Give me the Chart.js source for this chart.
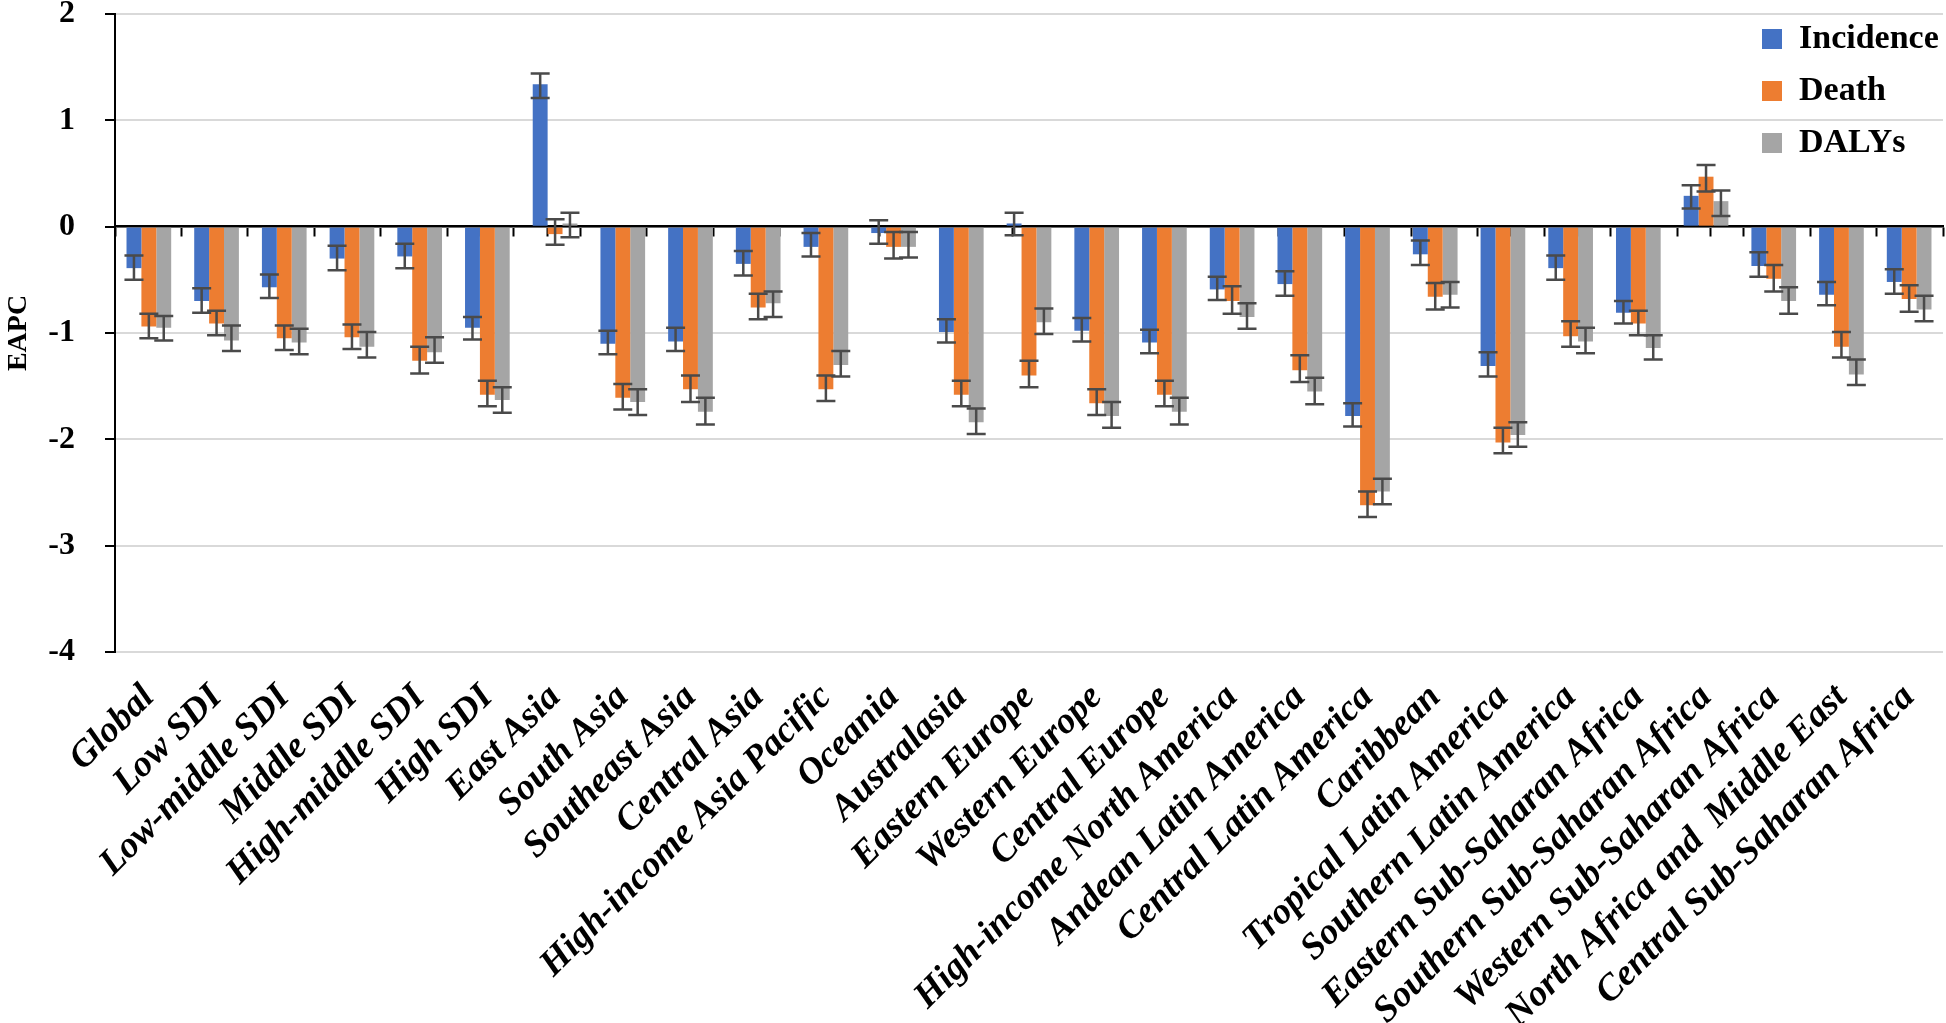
<!DOCTYPE html>
<html>
<head>
<meta charset="utf-8">
<script src="https://cdn.jsdelivr.net/npm/chart.js@4.4.1/dist/chart.umd.min.js"></script>
<style>
html,body{margin:0;padding:0;background:#fff;}
canvas{display:block;}
</style>
</head>
<body>
<canvas id="c" width="1946" height="1023"></canvas>
<script>
const categories = ['Global','Low SDI','Low-middle SDI','Middle SDI','High-middle SDI','High SDI','East Asia','South Asia','Southeast Asia','Central Asia','High-income Asia Pacific','Oceania','Australasia','Eastern Europe','Western Europe','Central Europe','High-income North America','Andean Latin America','Central Latin America','Caribbean','Tropical Latin America','Southern Latin America','Eastern Sub-Saharan Africa','Southern Sub-Saharan Africa','Western Sub-Saharan Africa','North Africa and  Middle East','Central Sub-Saharan Africa'];

const seriesNames = ['Incidence','Death','DALYs'];
const seriesColors = ['#4472C4','#ED7D31','#A5A5A5'];

const incidence     = [-0.39,-0.70,-0.57,-0.30,-0.28,-0.95, 1.34,-1.10,-1.08,-0.35,-0.19,-0.06,-0.99, 0.03,-0.98,-1.09,-0.59,-0.54,-1.78,-0.26,-1.31,-0.39,-0.81, 0.29,-0.37,-0.64,-0.52];
const incidenceLow  = [-0.50,-0.81,-0.67,-0.41,-0.39,-1.06, 1.21,-1.20,-1.17,-0.46,-0.28,-0.16,-1.09,-0.08,-1.08,-1.19,-0.69,-0.65,-1.88,-0.36,-1.41,-0.50,-0.91, 0.17,-0.47,-0.74,-0.63];
const incidenceHigh = [-0.27,-0.58,-0.45,-0.18,-0.16,-0.85, 1.44,-0.98,-0.95,-0.23,-0.06, 0.06,-0.87, 0.13,-0.86,-0.97,-0.47,-0.42,-1.66,-0.13,-1.18,-0.27,-0.70, 0.39,-0.24,-0.52,-0.40];

const death     = [-0.94,-0.91,-1.05,-1.04,-1.26,-1.58,-0.07,-1.61,-1.53,-0.76,-1.53,-0.19,-1.58,-1.40,-1.66,-1.58,-0.70,-1.35,-2.62,-0.66,-2.03,-1.03,-0.91, 0.47,-0.49,-1.13,-0.68];
const deathLow  = [-1.05,-1.02,-1.16,-1.15,-1.38,-1.69,-0.17,-1.72,-1.65,-0.87,-1.64,-0.30,-1.69,-1.51,-1.77,-1.69,-0.82,-1.46,-2.73,-0.78,-2.13,-1.13,-1.02, 0.33,-0.61,-1.23,-0.80];
const deathHigh = [-0.82,-0.79,-0.93,-0.92,-1.13,-1.45, 0.07,-1.48,-1.40,-0.63,-1.40,-0.05,-1.45,-1.26,-1.53,-1.45,-0.56,-1.21,-2.49,-0.53,-1.89,-0.89,-0.79, 0.58,-0.36,-0.99,-0.55];

const dalys     = [-0.95,-1.07,-1.09,-1.13,-1.18,-1.63, 0.03,-1.65,-1.74,-0.72,-1.30,-0.19,-1.84,-0.90,-1.78,-1.74,-0.85,-1.55,-2.49,-0.64,-1.96,-1.08,-1.14, 0.24,-0.70,-1.39,-0.78];
const dalysLow  = [-1.07,-1.17,-1.20,-1.23,-1.28,-1.75,-0.10,-1.77,-1.86,-0.85,-1.41,-0.29,-1.95,-1.01,-1.89,-1.86,-0.96,-1.67,-2.61,-0.76,-2.07,-1.19,-1.25, 0.10,-0.82,-1.49,-0.89];
const dalysHigh = [-0.84,-0.93,-0.96,-0.99,-1.04,-1.51, 0.13,-1.53,-1.61,-0.61,-1.17,-0.05,-1.71,-0.77,-1.65,-1.61,-0.72,-1.42,-2.37,-0.52,-1.84,-0.95,-1.02, 0.34,-0.57,-1.25,-0.65];

const yTicks = [2, 1, 0, -1, -2, -3, -4];
const yTitle = 'EAPC';

const SERIF = '"Liberation Serif","Times New Roman",Times,serif';

const errorBars = {
  id: 'errorBars',
  afterDatasetsDraw(chart) {
    const ctx = chart.ctx;
    const ys = chart.scales.y;
    ctx.save();
    ctx.strokeStyle = '#4a4a4a';
    ctx.lineWidth = 2.5;
    chart.data.datasets.forEach((ds, di) => {
      const meta = chart.getDatasetMeta(di);
      if (meta.hidden) return;
      meta.data.forEach((bar, i) => {
        const lo = ys.getPixelForValue(ds.errLow[i]);
        const hi = ys.getPixelForValue(ds.errHigh[i]);
        const x = bar.x;
        const cap = 9.5;
        ctx.beginPath();
        ctx.moveTo(x, lo); ctx.lineTo(x, hi);
        ctx.moveTo(x - cap, lo); ctx.lineTo(x + cap, lo);
        ctx.moveTo(x - cap, hi); ctx.lineTo(x + cap, hi);
        ctx.stroke();
      });
    });
    ctx.restore();
  }
};

const whiteBg = {
  id: 'whiteBg',
  beforeDraw(chart) {
    const ctx = chart.ctx;
    ctx.save();
    ctx.fillStyle = '#fff';
    ctx.fillRect(0, 0, chart.width, chart.height);
    ctx.restore();
  }
};

const legendPlace = {
  id: 'legendPlace',
  afterLayout(chart) {
    const lg = chart.legend;
    const ca = chart.chartArea;
    if (!lg) return;
    const w = lg.width, h = lg.height;
    lg.left = ca.right - 199;
    lg.right = lg.left + w;
    lg.top = 4;
    lg.bottom = lg.top + h;
  }
};

function zeroPad(s) { s.paddingLeft = 0; s.paddingRight = 0; s.paddingTop = 0; s.paddingBottom = 0; }

const mk = (name, color, vals, lo, hi) => ({
  label: name, data: vals, errLow: lo, errHigh: hi,
  backgroundColor: color, borderWidth: 0,
  categoryPercentage: 0.66, barPercentage: 1.0,
  xAxisID: 'x', yAxisID: 'y'
});

new Chart(document.getElementById('c'), {
  type: 'bar',
  data: {
    labels: categories,
    datasets: [
      mk(seriesNames[0], seriesColors[0], incidence, incidenceLow, incidenceHigh),
      mk(seriesNames[1], seriesColors[1], death, deathLow, deathHigh),
      mk(seriesNames[2], seriesColors[2], dalys, dalysLow, dalysHigh)
    ]
  },
  options: {
    responsive: false,
    devicePixelRatio: 1,
    animation: false,
    layout: { padding: { top: 14, right: 3, left: 0, bottom: 0 } },
    plugins: {
      legend: {
        display: true,
        position: 'chartArea',
        align: 'start',
        labels: {
          font: { family: SERIF, size: 34, weight: 'bold' },
          color: '#000',
          boxWidth: 20, boxHeight: 20, padding: 18
        }
      },
      tooltip: { enabled: false }
    },
    scales: {
      x: {
        type: 'category',
        position: 'bottom',
        offset: true,
        grid: { display: false, drawTicks: false },
        border: { display: false },
        ticks: {
          font: { family: SERIF, size: 37, weight: 'bold', style: 'italic' },
          color: '#000',
          minRotation: 45, maxRotation: 45,
          autoSkip: false,
          padding: 24
        },
        afterFit(s) { s.height = 371; zeroPad(s); }
      },
      xz: {
        type: 'linear',
        position: { y: 0 },
        min: -0.5,
        max: categories.length - 0.5,
        z: 1,
        ticks: { display: false, stepSize: 0.5, autoSkip: false, maxTicksLimit: 1000 },
        grid: { drawOnChartArea: false, drawTicks: true, tickLength: 9, tickWidth: 2, color: '#000' },
        border: { display: true, color: '#000', width: 2.5 },
        afterFit(s) { zeroPad(s); }
      },
      y: {
        type: 'linear',
        position: 'left',
        min: -4, max: 2,
        afterBuildTicks(s) { s.ticks = yTicks.map(v => ({ value: v })); },
        ticks: {
          font: { family: SERIF, size: 32, weight: 'bold', lineHeight: 0.9 },
          color: '#000',
          padding: 30,
          callback: v => String(v)
        },
        grid: { color: '#d9d9d9', lineWidth: 2, tickColor: '#000', tickLength: 10, tickWidth: 2, drawTicks: true },
        border: { display: true, color: '#000', width: 2 },
        title: {
          display: true, text: yTitle,
          font: { family: SERIF, size: 28, weight: 'bold', lineHeight: 1.1 },
          color: '#000',
          padding: { top: 3, bottom: 0 }
        },
        afterFit(s) { s.width = 115; zeroPad(s); }
      }
    }
  },
  plugins: [whiteBg, errorBars, legendPlace]
});
</script>
</body>
</html>
